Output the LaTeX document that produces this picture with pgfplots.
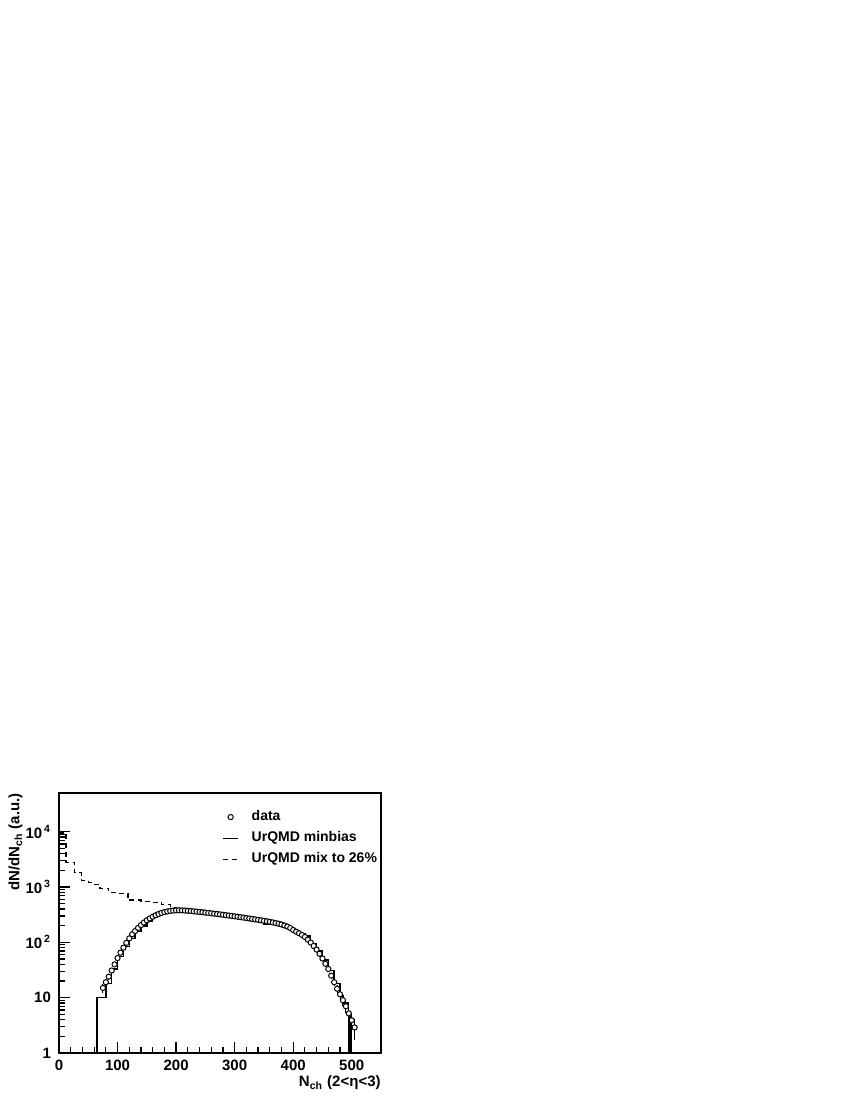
\documentclass[border=0pt]{standalone}
\usepackage{fontspec}
\setmainfont{Liberation Sans}
\usepackage{pgfplots}
\usepackage{pgfplotstable}
\pgfplotsset{compat=1.18}

% measured data, N_ch  dN/dN_ch  error
\pgfplotstableread{
N val err
75 15 3
80 19 3
85 24 3
90 31 3.5
95 40 4
100 52 4
105 65 5
110 80 5
115 98 6
120 118 6
125 140 7
130 160 7
135 182 8
140 205 8
145 228 8
150 250 9
155 270 9
160 290 9
165 308 10
170 325 10
175 340 10
180 352 10
185 362 10
190 370 10
195 375 10
200 378 10
205 380 10
210 378 10
215 375 10
220 372 10
225 368 10
230 363 10
235 359 10
240 355 10
245 350 10
250 345 10
255 340 10
260 335 10
265 330 10
270 325 10
275 320 10
280 315 10
285 310 10
290 305 10
295 300 10
300 295 10
305 290 10
310 285 10
315 280 10
320 275 10
325 270 10
330 265 10
335 260 10
340 255 10
345 250 10
350 245 10
355 240 10
360 235 10
365 229 10
370 223 10
375 217 10
380 210 10
385 202 10
390 193 10
395 181 10
400 167 9
405 156 9
410 146 9
415 136 8
420 125 8
425 112 7
430 99 7
435 86 6
440 74 6
445 62 5
450 51 5
455 41 4
460 33 4
465 25 3.5
470 19 3
475 14.5 2.5
480 11.5 2.2
485 9 2
490 7 1.8
495 5.2 1.6
500 3.9 1.4
505 2.9 1.2
}\datatab

% UrQMD minbias histogram, bin lower edge and content
\pgfplotstableread{
N val
55 0.5
65 10
80 18
90 33
100 55
110 85
120 118
130 158
140 198
150 245
160 290
170 322
180 350
190 368
200 378
210 377
220 370
230 360
240 352
250 342
260 330
270 322
280 307
290 302
300 292
310 278
320 272
330 262
340 252
350 208
360 232
370 220
380 206
390 187
400 162
410 142
420 130
430 95
440 70
450 48
460 31
470 18
480 11
485 8
494 0.5
497 4.5
499 0.5
510 0.5
}\minbiastab

% UrQMD mix to 26%
\pgfplotstableread{
N val
0 9500
12 2800
27 1800
38 1300
50 1200
60 1120
70 950
85 800
100 770
118 580
140 550
160 530
175 480
190 430
200 400
210 382
220 370
230 362
}\mixtab

\begin{document}
\begin{tikzpicture}
\useasboundingbox[fill=white] (0pt,0pt) rectangle (425pt,550pt);
\begin{axis}[
  at={(29.5pt,23.5pt)}, anchor=south west,
  scale only axis, width=161pt, height=130pt,
  ymode=log,
  xmin=0, xmax=550, ymin=1, ymax=5e4,
  axis line style={line width=0.8pt},
  xtick={0,100,...,500}, minor x tick num=4,
  ytick={1,10,100,1000,10000},
  yticklabels={1,10,10\textsuperscript{\,2},10\textsuperscript{\,3},10\textsuperscript{\,4}},
  tick align=inside, xtick pos=left, ytick pos=left,
  major tick length=5.5pt, minor tick length=3pt,
  tick style={line width=0.6pt, black},
  ticklabel style={font=\bfseries\fontsize{7.5}{9}\selectfont},
  yticklabel style={xshift=-0.5pt},
  /pgf/number format/assume math mode=true,
  label style={font=\bfseries\fontsize{7.5}{9}\selectfont},
  xlabel={N\textsubscript{ch} (2<η<3)},
  xlabel style={at={(axis description cs:1,0)}, anchor=east, yshift=-15pt, inner sep=0pt},
  ylabel={dN/dN\textsubscript{ch} (a.u.)},
  ylabel style={at={(axis description cs:-0.135,1)}, anchor=east, inner sep=0pt},
  legend image code/.code={\draw[mark repeat=2,mark phase=2,#1] plot coordinates {(0pt,0pt) (3.75pt,0pt) (7.5pt,0pt)};},
  legend style={at={(axis description cs:0.488,0.965)}, anchor=north west, draw=none, fill=none,
    font=\bfseries\fontsize{7}{8}\selectfont, row sep=0pt,
    /tikz/every odd column/.append style={column sep=4.5pt}},
  legend cell align=left,
]
\addlegendimage{only marks, mark=*, mark size=1.3pt, mark options={fill=white, draw=black, line width=0.5pt}}
\addlegendentry{data}
\addlegendimage{black, line width=0.6pt}
\addlegendentry{UrQMD minbias}
\addlegendimage{black, line width=0.6pt, dash pattern=on 2.5pt off 1.8pt}
\addlegendentry{UrQMD mix to 26\%}

\addplot[forget plot, const plot, black, line width=0.6pt, dash pattern=on 2.5pt off 1.8pt] table[x=N, y=val] {\mixtab};
\addplot[forget plot, const plot, black, line width=0.7pt] table[x=N, y=val] {\minbiastab};
\addplot[forget plot, only marks, mark=*, mark size=1.3pt,
  mark options={fill=white, draw=black, line width=0.5pt},
  error bars/.cd, y dir=both, y explicit, error mark=none,
  error bar style={line width=0.5pt, black}]
  table[x=N, y=val, y error=err] {\datatab};
\end{axis}
\end{tikzpicture}
\end{document}
